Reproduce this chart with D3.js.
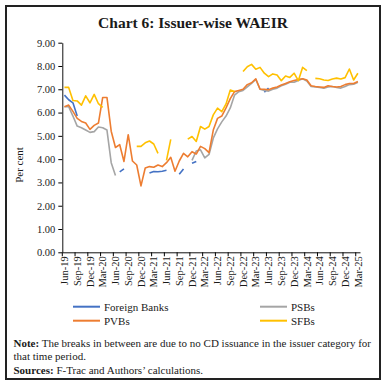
<!DOCTYPE html>
<html>
<head>
<meta charset="utf-8">
<script src="https://cdnjs.cloudflare.com/ajax/libs/d3/7.8.5/d3.min.js"></script>
<style>
  body { margin: 0; background: #fff; }
  text { font-family: "Liberation Serif", serif; fill: #1a1a1a; }
</style>
</head>
<body>
<div id="vis"></div>
<script>
const months = ['Jun-19','Jul-19','Aug-19','Sep-19','Oct-19','Nov-19','Dec-19',
  'Jan-20','Feb-20','Mar-20','Apr-20','May-20','Jun-20','Jul-20','Aug-20','Sep-20','Oct-20','Nov-20','Dec-20',
  'Jan-21','Feb-21','Mar-21','Apr-21','May-21','Jun-21','Jul-21','Aug-21','Sep-21','Oct-21','Nov-21','Dec-21',
  'Jan-22','Feb-22','Mar-22','Apr-22','May-22','Jun-22','Jul-22','Aug-22','Sep-22','Oct-22','Nov-22','Dec-22',
  'Jan-23','Feb-23','Mar-23','Apr-23','May-23','Jun-23','Jul-23','Aug-23','Sep-23','Oct-23','Nov-23','Dec-23',
  'Jan-24','Feb-24','Mar-24','Apr-24','May-24','Jun-24','Jul-24','Aug-24','Sep-24','Oct-24','Nov-24','Dec-24',
  'Jan-25','Feb-25','Mar-25'];

// null = no CD issuance that month
const foreignBanks = [
  6.75, 6.55, 6.42, 5.85, null, null, null, null, null, null,
  null, null, null, 3.45, 3.58, null, null, null, null, null,
  3.40, 3.47, 3.46, 3.48, 3.52, null, null, 3.35, 3.58, null,
  3.82, 3.90, null, null, null, null, null, null, null, null,
  null, null, null, null, null, null, null, 6.88, 7.05, null,
  null, null, null, null, null, null, null, null, null, null,
  null, null, null, null, null, null, null, null, null, null];

const psbs = [
  6.25, 6.25, 5.85, 5.42, 5.35, 5.25, 5.15, 5.18, 5.38, 5.35,
  5.25, 3.85, 3.30, null, null, null, null, null, null, null,
  null, null, null, null, null, null, null, null, null, null,
  3.95, 4.35, 4.40, 4.05, 4.20, 4.90, 5.30, 5.60, 5.85, 6.20,
  6.75, 6.90, 6.95, 7.10, 7.25, 7.42, 7.00, 6.95, 6.92, 7.00,
  7.05, 7.15, 7.22, 7.30, 7.30, 7.38, 7.45, 7.35, 7.12, 7.10,
  7.08, 7.05, 7.10, 7.12, 7.08, 7.05, 7.12, 7.20, 7.22, 7.30];

const pvbs = [
  6.25, 6.32, 6.05, 5.75, 5.62, 5.55, 5.28, 5.45, 5.55, 6.65,
  6.65, 5.20, 4.50, 4.62, 3.90, 5.05, 3.92, 3.75, 2.85, 3.62,
  3.68, 3.65, 3.75, 3.68, 3.85, 4.08, 3.48, 3.92, 4.25, 4.10,
  4.32, 4.22, 4.55, 4.45, 4.28, 5.25, 5.75, 5.85, 6.20, 6.60,
  6.90, 6.95, 7.00, 7.20, 7.28, 7.45, 7.00, 7.00, 6.98, 7.05,
  7.10, 7.18, 7.25, 7.32, 7.38, 7.42, 7.45, 7.40, 7.15, 7.12,
  7.10, 7.08, 7.15, 7.12, 7.10, 7.12, 7.20, 7.25, 7.25, 7.33];

const sfbs = [
  7.08, 7.08, 6.52, 6.50, 6.32, 6.72, 6.42, 6.78, 6.38, 6.22,
  null, null, null, null, null, null, null, 4.55, 4.55, 4.70,
  4.78, 4.65, 4.25, null, 3.95, 4.85, null, null, null, 4.86,
  4.97, 4.76, 5.40, 5.29, 5.40, 5.90, 6.19, 6.04, 6.37, 6.97,
  6.90, null, 7.76, 7.97, 8.07, 7.86, 7.94, 7.69, 7.54, 7.66,
  7.61, 7.37, 7.57, 7.51, 7.69, 7.37, 7.94, 7.80, null, 7.47,
  7.45, 7.40, 7.38, 7.44, 7.48, 7.44, 7.50, 7.87, 7.40, 7.69];

const yTicks = [0, 1, 2, 3, 4, 5, 6, 7, 8, 9];

const series = [
  {name: 'Foreign Banks', values: foreignBanks, color: '#4472C4'},
  {name: 'PSBs', values: psbs, color: '#A5A5A5'},
  {name: 'PVBs', values: pvbs, color: '#ED7D31'},
  {name: 'SFBs', values: sfbs, color: '#FFC000'}
];

const W = 386, H = 387;

const svg = d3.select('#vis')
  .append('svg')
  .attr('width', W)
  .attr('height', H);

svg.append('rect')
  .attr('x', 6).attr('y', 6)
  .attr('width', 374).attr('height', 373)
  .attr('fill', '#fff')
  .attr('stroke', '#222')
  .attr('stroke-width', 2);

svg.append('text')
  .attr('x', 193)
  .attr('y', 28)
  .attr('text-anchor', 'middle')
  .style('font-size', '15.5px')
  .style('font-weight', 'bold')
  .text('Chart 6: Issuer-wise WAEIR');

const xScale = d3.scaleBand()
  .domain(months)
  .range([62.3, 360]);

const yScale = d3.scaleLinear()
  .domain([0, 9])
  .range([252.3, 42.7]);

const bw = xScale.bandwidth();

// y axis
const yAxis = svg.append('g')
  .attr('transform', 'translate(62.3,0)')
  .call(d3.axisLeft(yScale).tickValues(yTicks).tickFormat(d3.format('.2f')).tickSizeInner(4).tickSizeOuter(0).tickPadding(3));
yAxis.selectAll('text').style('font-size', '10.5px').attr('font-family', null);
yAxis.select('.domain').attr('stroke', '#111');

// x axis: labels on every 3rd month, ticks on category boundaries
const xAxis = svg.append('g')
  .attr('transform', 'translate(0,252.3)')
  .call(d3.axisBottom(xScale).tickValues(months.filter((m, i) => i % 3 === 0)).tickSizeInner(4).tickSizeOuter(0));
xAxis.select('.domain').attr('stroke', '#111');
xAxis.selectAll('.tick line').attr('transform', `translate(${-bw / 2},0)`);
xAxis.selectAll('.tick text')
  .attr('font-family', null)
  .style('font-size', '10.5px')
  .attr('text-anchor', 'end')
  .attr('transform', 'rotate(-90)')
  .attr('x', -4)
  .attr('y', 0)
  .attr('dy', '0.35em');

svg.append('text')
  .attr('transform', 'rotate(-90)')
  .attr('x', -165)
  .attr('y', 23)
  .attr('text-anchor', 'middle')
  .style('font-size', '11px')
  .text('Per cent');

const line = d3.line()
  .defined(d => d != null)
  .x((d, i) => xScale(months[i]) + bw / 2)
  .y(d => yScale(d));

svg.selectAll('.series')
  .data(series)
  .enter()
  .append('path')
  .attr('class', 'series')
  .attr('d', d => line(d.values))
  .attr('fill', 'none')
  .attr('stroke', d => d.color)
  .attr('stroke-width', 1.6)
  .attr('stroke-linejoin', 'round');

// legend, two columns
const legend = svg.selectAll('.legend')
  .data(series)
  .enter()
  .append('g')
  .attr('class', 'legend')
  .attr('transform', (d, i) => `translate(${i % 2 === 0 ? 73 : 260},${i < 2 ? 306.7 : 320.7})`);

legend.append('line')
  .attr('x1', 0).attr('x2', 27)
  .attr('stroke', d => d.color)
  .attr('stroke-width', 2);

legend.append('text')
  .attr('x', 31)
  .attr('dy', '0.35em')
  .style('font-size', '11px')
  .text(d => d.name);

// notes
const notes = svg.append('g').style('font-size', '11px');
const n1 = notes.append('text').attr('x', 13.5).attr('y', 346.5);
n1.append('tspan').style('font-weight', 'bold').text('Note:');
n1.append('tspan').text(' The breaks in between are due to no CD issuance in the issuer category for');
notes.append('text').attr('x', 13.5).attr('y', 360).text('that time period.');
const n3 = notes.append('text').attr('x', 13.5).attr('y', 373.5);
n3.append('tspan').style('font-weight', 'bold').text('Sources:');
n3.append('tspan').text(' F-Trac and Authors\u2019 calculations.');
</script>
</body>
</html>
